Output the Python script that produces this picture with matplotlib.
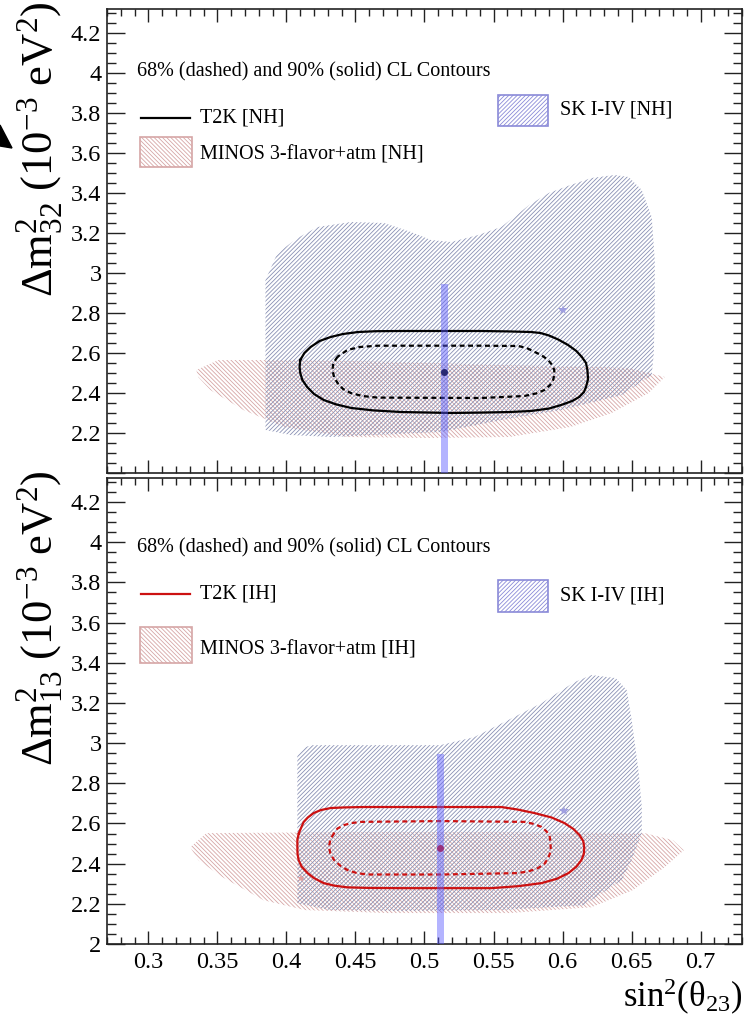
import numpy as np
import matplotlib.pyplot as plt
from matplotlib.patches import Polygon, Rectangle
from matplotlib.lines import Line2D
from matplotlib.ticker import MultipleLocator, FuncFormatter

plt.rcParams['font.family'] = ['Liberation Serif', 'DejaVu Serif']
plt.rcParams['mathtext.fontset'] = 'custom'
plt.rcParams['mathtext.rm'] = 'Liberation Serif'
plt.rcParams['mathtext.it'] = 'Liberation Serif:italic'
plt.rcParams['hatch.linewidth'] = 0.6

# --- normal hierarchy (sin^2 theta23, dm^2 in 1e-3 eV^2) ---
t2k_nh_90 = [(0.410, 2.565), (0.4095, 2.53), (0.410, 2.50), (0.4115, 2.465),
             (0.415, 2.43), (0.420, 2.395), (0.427, 2.365), (0.436, 2.343),
             (0.447, 2.325), (0.463, 2.313), (0.483, 2.305), (0.519, 2.30),
             (0.541, 2.302), (0.562, 2.305), (0.577, 2.31), (0.590, 2.322),
             (0.599, 2.34), (0.607, 2.36), (0.612, 2.38), (0.6155, 2.405),
             (0.617, 2.43), (0.6185, 2.47), (0.618, 2.515), (0.617, 2.55),
             (0.614, 2.58), (0.610, 2.61), (0.604, 2.64), (0.597, 2.667),
             (0.590, 2.688), (0.584, 2.70), (0.577, 2.705), (0.560, 2.708),
             (0.541, 2.71), (0.483, 2.71), (0.465, 2.709), (0.452, 2.705),
             (0.441, 2.695), (0.432, 2.68), (0.424, 2.66), (0.4175, 2.63),
             (0.413, 2.60)]
t2k_nh_68 = [(0.437, 2.5815), (0.434, 2.55), (0.4333, 2.515), (0.4345, 2.48),
             (0.437, 2.45), (0.441, 2.42), (0.4466, 2.40), (0.455, 2.385),
             (0.466, 2.377), (0.541, 2.375), (0.5723, 2.385), (0.581, 2.398),
             (0.5869, 2.415), (0.591, 2.44), (0.5932, 2.465), (0.594, 2.49),
             (0.594, 2.515), (0.5925, 2.54), (0.5895, 2.565), (0.585, 2.588),
             (0.5796, 2.606), (0.574, 2.625), (0.568, 2.635), (0.541, 2.6365),
             (0.466, 2.6365), (0.453, 2.63), (0.4442, 2.615)]
t2k_nh_best = (0.5144, 2.503)
sk_nh = [(0.3848, 2.215), (0.3848, 2.715), (0.3848, 2.965), (0.3935, 3.10),
         (0.4081, 3.175), (0.4226, 3.23), (0.4466, 3.255), (0.4706, 3.25),
         (0.4902, 3.205), (0.5047, 3.165), (0.5193, 3.155), (0.5389, 3.19),
         (0.5556, 3.23), (0.5759, 3.34), (0.590, 3.40), (0.6058, 3.44),
         (0.621, 3.475), (0.6377, 3.49), (0.6479, 3.48), (0.6574, 3.415),
         (0.6646, 3.28), (0.6668, 3.065), (0.6668, 2.815), (0.6661, 2.60),
         (0.6646, 2.49), (0.6428, 2.39), (0.599, 2.315), (0.5556, 2.265),
         (0.512, 2.205), (0.4321, 2.18), (0.403, 2.19)]
sk_nh_best = (0.6004, 2.815)
minos_nh = [(0.3347, 2.515), (0.3507, 2.565), (0.4103, 2.565), (0.483, 2.555),
            (0.5556, 2.54), (0.6283, 2.53), (0.6479, 2.525), (0.6741, 2.48),
            (0.6624, 2.40), (0.6356, 2.30), (0.6058, 2.23), (0.5614, 2.18),
            (0.5026, 2.175), (0.443, 2.18), (0.3986, 2.23), (0.3688, 2.315),
            (0.3449, 2.415), (0.3361, 2.48)]
band_nh = (0.5144, 0.005, 2.945)   # centre, width, top

# --- inverted hierarchy ---
t2k_ih_90 = [(0.409, 2.552), (0.4079, 2.52), (0.4079, 2.482), (0.408, 2.45),
             (0.4088, 2.418), (0.411, 2.385), (0.4153, 2.353), (0.420, 2.328),
             (0.427, 2.303), (0.435, 2.29), (0.4444, 2.282), (0.46, 2.279),
             (0.483, 2.278), (0.5483, 2.278), (0.568, 2.288), (0.5847, 2.303),
             (0.596, 2.325), (0.6043, 2.353), (0.610, 2.385), (0.6137, 2.418),
             (0.6155, 2.45), (0.6157, 2.482), (0.615, 2.512), (0.6123, 2.542),
             (0.608, 2.572), (0.6014, 2.602), (0.592, 2.63), (0.5796, 2.652),
             (0.567, 2.67), (0.5556, 2.682), (0.483, 2.682), (0.456, 2.682),
             (0.442, 2.68), (0.4321, 2.677), (0.425, 2.667), (0.4197, 2.652),
             (0.4155, 2.63), (0.4124, 2.607)]
t2k_ih_68 = [(0.4345, 2.552), (0.4318, 2.52), (0.4308, 2.484), (0.4318, 2.45),
             (0.4345, 2.418), (0.439, 2.39), (0.4442, 2.368), (0.451, 2.353),
             (0.4587, 2.346), (0.512, 2.346), (0.5677, 2.353), (0.576, 2.363),
             (0.5823, 2.378), (0.587, 2.40), (0.5896, 2.428), (0.5914, 2.46),
             (0.5914, 2.484), (0.5912, 2.51), (0.5907, 2.534), (0.5885, 2.56),
             (0.5847, 2.583), (0.579, 2.598), (0.5723, 2.608), (0.512, 2.612),
             (0.4539, 2.608), (0.447, 2.602), (0.4417, 2.592), (0.437, 2.575)]
t2k_ih_best = (0.5112, 2.476)
sk_ih = [(0.4079, 2.203), (0.4079, 2.94), (0.4132, 2.98), (0.419, 2.99),
         (0.5113, 2.99), (0.536, 3.03), (0.5607, 3.115), (0.5847, 3.199),
         (0.6087, 3.304), (0.621, 3.339), (0.6384, 3.324), (0.6465, 3.264),
         (0.6501, 3.115), (0.6552, 2.851), (0.6574, 2.682), (0.6574, 2.552),
         (0.6501, 2.418), (0.6428, 2.318), (0.6152, 2.193), (0.5556, 2.169),
         (0.483, 2.164), (0.4313, 2.169)]
sk_ih_best = (0.601, 2.661)
minos_ih = [(0.3303, 2.482), (0.342, 2.552), (0.45, 2.557), (0.55, 2.557),
            (0.6595, 2.552), (0.6799, 2.517), (0.6879, 2.467), (0.6741, 2.383),
            (0.6508, 2.268), (0.621, 2.183), (0.5614, 2.154), (0.4728, 2.154),
            (0.4132, 2.169), (0.3834, 2.218), (0.3536, 2.333), (0.3361, 2.418)]
minos_ih_best = (0.4103, 2.328)
band_ih = (0.5117, 0.005, 2.945)

SK_COL = '#8990b4'
MINOS_COL = '#d6a6a6'
BAND_COL = '#5a5aff'
HATCH_SK = '/' * 8
HATCH_MINOS = '\\' * 8

fig = plt.figure(figsize=(7.49, 10.17), dpi=100)
W, H = 749.0, 1017.0
ax_nh = fig.add_axes([107 / W, 1 - 473 / H, 635 / W, 464 / H])
ax_ih = fig.add_axes([107 / W, 1 - 944 / H, 635 / W, 466 / H])


def fmt(show_two):
    def f(v, pos):
        if abs(v - 2.0) < 1e-6 and not show_two:
            return ''
        return '%g' % round(v, 3)
    return FuncFormatter(f)


def closed(pts):
    a = np.array(pts)
    return np.vstack([a, a[:1]])


def draw_panel(ax, sk, minos, c90, c68, best, sk_best, band, col, minos_best=None):
    ax.add_patch(Polygon(minos, closed=True, facecolor='none', edgecolor=MINOS_COL,
                         hatch=HATCH_MINOS, lw=0, zorder=1))
    ax.add_patch(Polygon(sk, closed=True, facecolor='none', edgecolor=SK_COL,
                         hatch=HATCH_SK, lw=0, zorder=2))
    a = closed(c90)
    ax.plot(a[:, 0], a[:, 1], color=col, lw=1.6, solid_joinstyle='round', zorder=4)
    a = closed(c68)
    ax.plot(a[:, 0], a[:, 1], color=col, lw=1.6, dashes=(2.2, 1.6), zorder=4)
    ax.plot([best[0]], [best[1]], 'o', color=col, ms=4, zorder=5)
    ax.plot([sk_best[0]], [sk_best[1]], '*', color='#a0a0e0', ms=7, mew=0, zorder=3)
    if minos_best is not None:
        ax.plot([minos_best[0]], [minos_best[1]], '*', color='#e0a0a0', ms=6, mew=0, zorder=3)
    ax.bar([band[0]], [band[2] - 2.0], bottom=2.0, width=band[1],
           color=BAND_COL, alpha=0.45, lw=0, zorder=6)

    ax.set_xlim(0.27, 0.73)
    ax.set_ylim(2.0, 4.32)
    ax.xaxis.set_major_locator(MultipleLocator(0.05))
    ax.xaxis.set_minor_locator(MultipleLocator(0.01))
    ax.yaxis.set_major_locator(MultipleLocator(0.2))
    ax.yaxis.set_minor_locator(MultipleLocator(0.05))
    ax.tick_params(which='both', direction='in', top=True, right=True,
                   width=1.0, labelsize=17.5, color='#222222')
    ax.tick_params(axis='x', which='major', length=9.5, pad=6)
    ax.tick_params(axis='x', which='minor', length=4.7)
    ax.tick_params(axis='y', which='major', length=13, pad=4)
    ax.tick_params(axis='y', which='minor', length=6.8)
    for s in ax.spines.values():
        s.set_linewidth(1.2)
        s.set_color('#222222')


draw_panel(ax_nh, sk_nh, minos_nh, t2k_nh_90, t2k_nh_68, t2k_nh_best,
           sk_nh_best, band_nh, 'black')
draw_panel(ax_ih, sk_ih, minos_ih, t2k_ih_90, t2k_ih_68, t2k_ih_best,
           sk_ih_best, band_ih, '#cc1111', minos_ih_best)
ax_nh.yaxis.set_major_formatter(fmt(False))
ax_nh.xaxis.set_major_formatter(FuncFormatter(lambda v, p: ''))
ax_ih.yaxis.set_major_formatter(fmt(True))
ax_ih.xaxis.set_major_formatter(FuncFormatter(lambda v, p: '%g' % round(v, 3)))


# legends, laid out in axes fractions
def legend(ax, top, h, tag, col, ys):
    y_head, y_t2k, y_minos, box_minos, y_sk, box_sk = ys
    def fy(py):
        return (top + h - py) / h
    def fx(px):
        return (px - 107) / 635.0
    tr = ax.transAxes
    fs = 14.5
    ax.text(fx(137), fy(y_head), '68% (dashed) and 90% (solid) CL Contours',
            transform=tr, fontsize=fs, va='center', ha='left')
    ax.add_line(Line2D([fx(141), fx(190)], [fy(y_t2k), fy(y_t2k)], color=col,
                       lw=1.6, transform=tr))
    ax.text(fx(200), fy(y_t2k), 'T2K [%s]' % tag, transform=tr, fontsize=fs,
            va='center', ha='left')
    ax.add_patch(Rectangle((fx(140), fy(box_minos[1])), fx(192) - fx(140),
                           (box_minos[1] - box_minos[0]) / h, transform=tr,
                           facecolor='none', edgecolor=MINOS_COL, hatch=HATCH_MINOS,
                           lw=1.2))
    ax.text(fx(200), fy(y_minos), 'MINOS 3-flavor+atm [%s]' % tag, transform=tr,
            fontsize=fs, va='center', ha='left')
    ax.add_patch(Rectangle((fx(498), fy(box_sk[1])), fx(548) - fx(498),
                           (box_sk[1] - box_sk[0]) / h, transform=tr,
                           facecolor='none', edgecolor='#8a8ad8', hatch=HATCH_SK,
                           lw=1.2))
    ax.text(fx(560), fy(y_sk), 'SK I-IV [%s]' % tag, transform=tr, fontsize=fs,
            va='center', ha='left')


legend(ax_nh, 9, 464, 'NH', 'black', (72, 118, 155, (137, 167), 110, (95, 126)))
legend(ax_ih, 478, 466, 'IH', '#cc1111', (548, 594, 650, (627, 663), 596, (580, 612)))

fig.text(40 / W, 1 - 2 / H, r'$\Delta\mathrm{m}^{2}_{32}$ (10$^{-3}$ eV$^{2}$)',
         rotation=90, ha='center', va='top', fontsize=32)
fig.text(40 / W, 1 - 471 / H, r'$\Delta\mathrm{m}^{2}_{13}$ (10$^{-3}$ eV$^{2}$)',
         rotation=90, ha='center', va='top', fontsize=32)
fig.text(743 / W, 1 - 997 / H, r'sin$^{2}$(θ$_{23}$)', ha='right', va='center',
         fontsize=25)

fig.patches.append(plt.Polygon([(0, 1 - 125 / H), (12 / W, 1 - 148 / H),
                                (0, 1 - 146 / H)], closed=True, color='black',
                               transform=fig.transFigure))

fig.savefig('out.png', dpi=100)
